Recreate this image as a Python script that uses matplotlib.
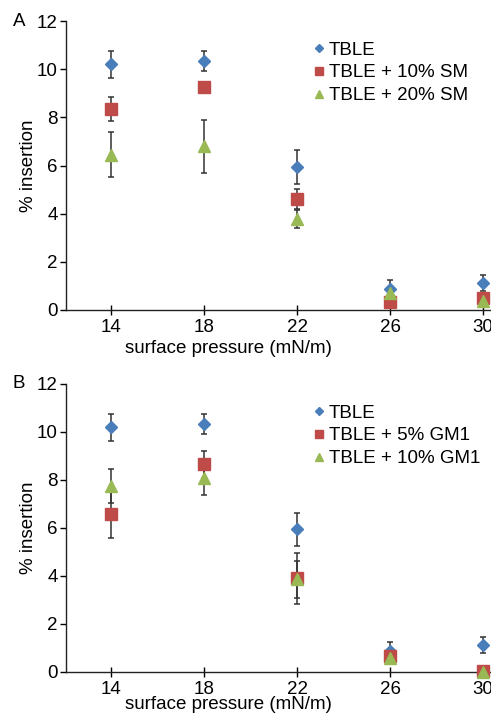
import matplotlib
matplotlib.use('Agg')
import matplotlib.pyplot as plt

plt.rcParams['font.family'] = ['Liberation Sans', 'DejaVu Sans']

pressure = [14, 18, 22, 26, 30]

# panel A
tble = [10.2, 10.35, 5.94, 0.87, 1.12]
tble_err = [0.57, 0.42, 0.69, 0.38, 0.33]
sm10 = [8.33, 9.27, 4.6, 0.33, 0.5]
sm10_err = [0.5, 0.2, 0.42, 0.1, 0.15]
sm20 = [6.45, 6.8, 3.78, 0.7, 0.37]
sm20_err = [0.93, 1.1, 0.38, 0.15, 0.1]

# panel B
gm5 = [6.58, 8.65, 3.9, 0.67, 0.05]
gm5_err = [1.0, 0.57, 1.05, 0.15, 0.05]
gm10 = [7.75, 8.07, 3.87, 0.6, 0.02]
gm10_err = [0.7, 0.7, 0.77, 0.1, 0.02]

labels_a = ['TBLE', 'TBLE + 10% SM', 'TBLE + 20% SM']
labels_b = ['TBLE', 'TBLE + 5% GM1', 'TBLE + 10% GM1']

blue = '#4a7ebb'
red = '#be4b48'
green = '#98b954'
markers = [('D', 6.0), ('s', 8.2), ('^', 8.8)]
colors = [blue, red, green]
fs = 13.5

fig = plt.figure(figsize=(4.91, 7.17), dpi=100)
ax_a = fig.add_axes([66/491, 1 - 310/717, 425/491, 289/717])
ax_b = fig.add_axes([66/491, 1 - 672/717, 425/491, 288/717])


def panel(ax, series, letter, ytop, xlab_y):
    for i, (vals, errs, lab) in enumerate(series):
        ax.errorbar(pressure, vals, yerr=errs, fmt='none', ecolor='#333333',
                    elinewidth=1.1, capsize=2.3, capthick=1.1, zorder=2, clip_on=False)
    for i, (vals, errs, lab) in enumerate(series):
        m, ms = markers[i]
        ax.plot(pressure, vals, linestyle='none', marker=m, markersize=ms,
                color=colors[i], markeredgecolor=colors[i], label=lab, zorder=3, clip_on=False)
    ax.set_xlim(12.06, 30.34)
    ax.set_ylim(0, 12)
    ax.set_xticks(pressure)
    ax.set_yticks(range(0, 13, 2))
    ax.spines['top'].set_visible(False)
    ax.spines['right'].set_visible(False)
    for s in ['left', 'bottom']:
        ax.spines[s].set_linewidth(1.0)
        ax.spines[s].set_color('#222222')
    ax.tick_params(axis='y', direction='out', length=4, width=1.0, labelsize=fs, pad=2)
    ax.tick_params(axis='x', direction='inout', length=7, width=1.0, labelsize=fs, pad=3)
    ax.set_ylabel('% insertion', fontsize=fs)
    ax.set_xlabel('surface pressure (mN/m)', fontsize=fs)
    ax.xaxis.set_label_coords((228 - 66) / 425, xlab_y)
    ax.yaxis.set_label_coords(-0.068, 0.5)
    ax.legend(loc='upper left', bbox_to_anchor=(0.565, 0.955), frameon=False,
              fontsize=fs, handlelength=0.6, handletextpad=0.2,
              labelspacing=0.3, markerscale=0.7, borderaxespad=0)
    fig.text(13/491, 1 - ytop/717, letter, fontsize=fs, ha='left', va='center')


panel(ax_a, [(tble, tble_err, labels_a[0]), (sm10, sm10_err, labels_a[1]),
             (sm20, sm20_err, labels_a[2])], 'A', 21, -0.105)
panel(ax_b, [(tble, tble_err, labels_b[0]), (gm5, gm5_err, labels_b[1]),
             (gm10, gm10_err, labels_b[2])], 'B', 383, -0.082)

fig.savefig('out.png', dpi=100)
